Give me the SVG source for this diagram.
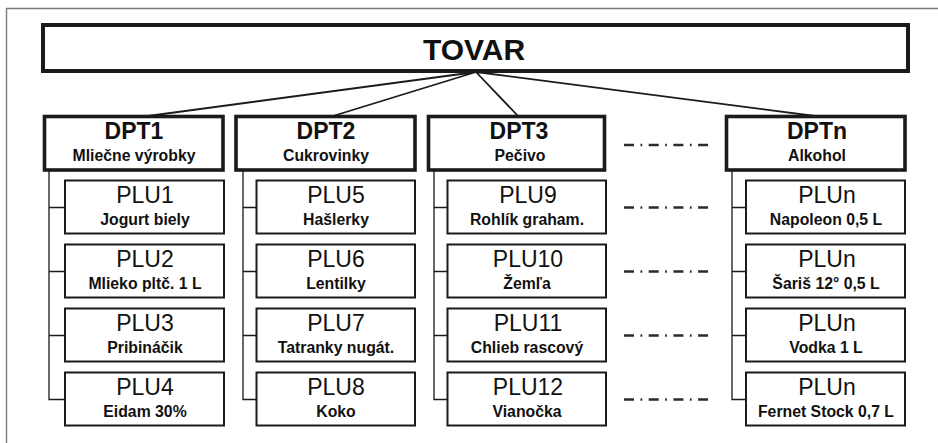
<svg xmlns="http://www.w3.org/2000/svg" width="938" height="443" viewBox="0 0 938 443">
<style>
text{font-family:"Liberation Sans",Arial,sans-serif;fill:#111;text-anchor:middle}
.t0{font-size:30px;font-weight:bold}
.t1{font-size:23px;font-weight:bold}
.t2{font-size:23px}
.s{font-size:15.8px;font-weight:bold}
.top{fill:#fff;stroke:#1c1a1b;stroke-width:4}
.dpt{fill:#fff;stroke:#1c1a1b;stroke-width:3.6}
.plu{fill:#fff;stroke:#1c1a1b;stroke-width:2}
.c{fill:none;stroke:#1c1a1b;stroke-width:1.8}
.tr{fill:none;stroke:#1c1a1b;stroke-width:1.3}
.dd{fill:none;stroke:#2a2a2a;stroke-width:2.3;stroke-dasharray:10 6.5 1.7 6.5}
.fr{fill:none;stroke:#7a7a7a;stroke-width:1.4}
</style>
<rect width="938" height="443" fill="#fff"/>
<path class="fr" d="M6.5,443 V8.5 H938"/>

<g id="connectors">
<path class="c" d="M476,72 L148,116 M476,72 L333,116 M476,72 L518,116 M476,72 L815,116"/>
<path class="tr" d="M49,171 V399.5 H65 M49,207.5 H65 M49,271.5 H65 M49,335.5 H65"/>
<path class="tr" d="M243,171 V399.5 H256.5 M243,207.5 H256.5 M243,271.5 H256.5 M243,335.5 H256.5"/>
<path class="tr" d="M434,171 V399.5 H447.5 M434,207.5 H447.5 M434,271.5 H447.5 M434,335.5 H447.5"/>
<path class="tr" d="M732,171 V399.5 H746 M732,207.5 H746 M732,271.5 H746 M732,335.5 H746"/>
</g>

<g id="ellipsis">
<path class="dd" d="M624,145 H709 M624,207.5 H709 M624,271.5 H709 M624,335.5 H709 M624,399.5 H709"/>
</g>

<g id="tovar">
<rect class="top" x="43" y="25" width="865" height="46"/>
<text class="t0" x="474" y="60">TOVAR</text>
</g>

<g id="dpt1">
<rect class="dpt" x="44.5" y="116.5" width="178.5" height="53.5"/>
<text class="t1" x="134" y="139">DPT1</text>
<text class="s" x="134" y="161">Mliečne výrobky</text>
</g>
<g id="dpt2">
<rect class="dpt" x="236" y="116.5" width="179" height="53.5"/>
<text class="t1" x="326" y="139">DPT2</text>
<text class="s" x="326" y="161">Cukrovinky</text>
</g>
<g id="dpt3">
<rect class="dpt" x="428.5" y="116.5" width="176" height="53.5"/>
<text class="t1" x="519" y="139">DPT3</text>
<text class="s" x="520" y="161">Pečivo</text>
</g>
<g id="dptn">
<rect class="dpt" x="726.5" y="116.5" width="178.5" height="53.5"/>
<text class="t1" x="817" y="139">DPTn</text>
<text class="s" x="817" y="161">Alkohol</text>
</g>

<g id="plu1"><rect class="plu" x="65" y="180.5" width="159" height="53"/><text class="t2" x="145" y="203">PLU1</text><text class="s" x="145" y="224.5">Jogurt biely</text></g>
<g id="plu2"><rect class="plu" x="65" y="244.5" width="159" height="53"/><text class="t2" x="145" y="267">PLU2</text><text class="s" x="145" y="288.5">Mlieko pltč. 1 L</text></g>
<g id="plu3"><rect class="plu" x="65" y="308.5" width="159" height="53"/><text class="t2" x="145" y="331">PLU3</text><text class="s" x="145" y="352.5">Pribináčik</text></g>
<g id="plu4"><rect class="plu" x="65" y="372.5" width="159" height="53"/><text class="t2" x="145" y="395">PLU4</text><text class="s" x="145" y="416.5">Eidam 30%</text></g>

<g id="plu5"><rect class="plu" x="256.5" y="180.5" width="158.5" height="53"/><text class="t2" x="336" y="203">PLU5</text><text class="s" x="336" y="224.5">Hašlerky</text></g>
<g id="plu6"><rect class="plu" x="256.5" y="244.5" width="158.5" height="53"/><text class="t2" x="336" y="267">PLU6</text><text class="s" x="336" y="288.5">Lentilky</text></g>
<g id="plu7"><rect class="plu" x="256.5" y="308.5" width="158.5" height="53"/><text class="t2" x="336" y="331">PLU7</text><text class="s" x="336" y="352.5">Tatranky nugát.</text></g>
<g id="plu8"><rect class="plu" x="256.5" y="372.5" width="158.5" height="53"/><text class="t2" x="336" y="395">PLU8</text><text class="s" x="336" y="416.5">Koko</text></g>

<g id="plu9"><rect class="plu" x="447.5" y="180.5" width="158.5" height="53"/><text class="t2" x="528" y="203">PLU9</text><text class="s" x="527" y="224.5">Rohlík graham.</text></g>
<g id="plu10"><rect class="plu" x="447.5" y="244.5" width="158.5" height="53"/><text class="t2" x="528" y="267">PLU10</text><text class="s" x="527" y="288.5">Žemľa</text></g>
<g id="plu11"><rect class="plu" x="447.5" y="308.5" width="158.5" height="53"/><text class="t2" x="528" y="331">PLU11</text><text class="s" x="527" y="352.5">Chlieb rascový</text></g>
<g id="plu12"><rect class="plu" x="447.5" y="372.5" width="158.5" height="53"/><text class="t2" x="528" y="395">PLU12</text><text class="s" x="527" y="416.5">Vianočka</text></g>

<g id="plun1"><rect class="plu" x="746" y="180.5" width="159" height="53"/><text class="t2" x="827" y="203">PLUn</text><text class="s" x="826" y="224.5">Napoleon 0,5 L</text></g>
<g id="plun2"><rect class="plu" x="746" y="244.5" width="159" height="53"/><text class="t2" x="827" y="267">PLUn</text><text class="s" x="826" y="288.5">Šariš 12° 0,5 L</text></g>
<g id="plun3"><rect class="plu" x="746" y="308.5" width="159" height="53"/><text class="t2" x="827" y="331">PLUn</text><text class="s" x="826" y="352.5">Vodka 1 L</text></g>
<g id="plun4"><rect class="plu" x="746" y="372.5" width="159" height="53"/><text class="t2" x="827" y="395">PLUn</text><text class="s" x="826" y="416.5">Fernet Stock 0,7 L</text></g>
</svg>
